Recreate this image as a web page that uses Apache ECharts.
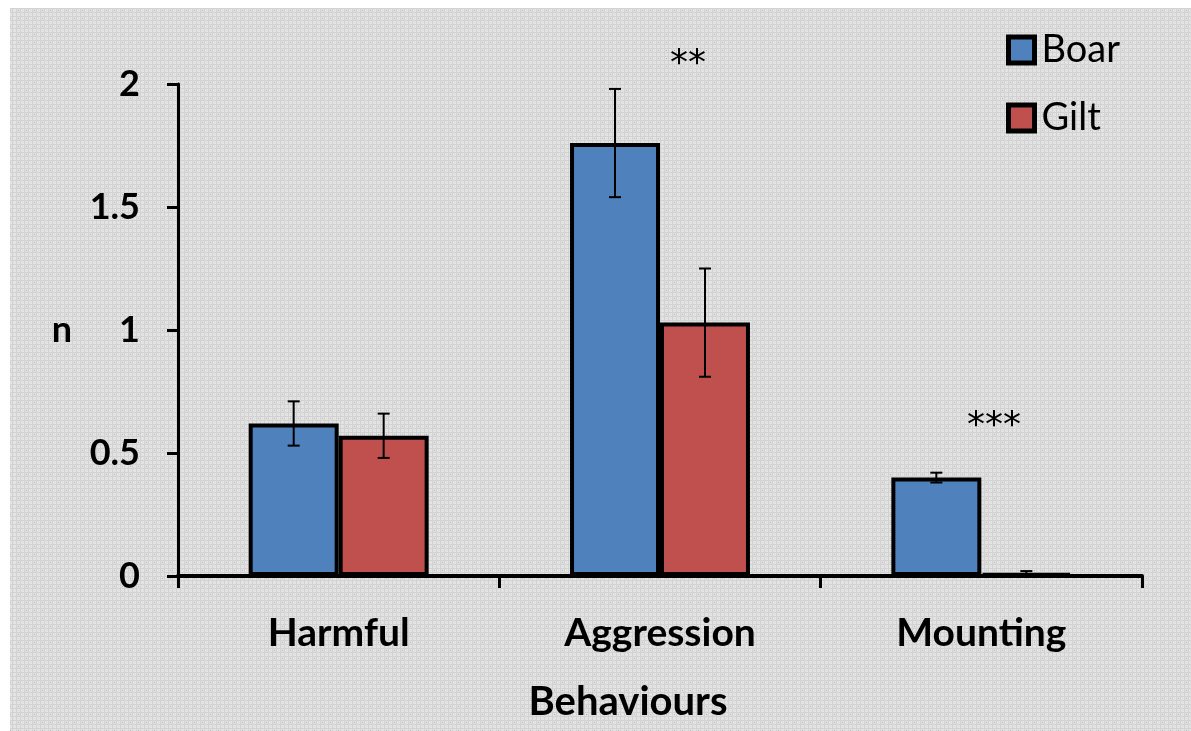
<!DOCTYPE html>
<html>
<head>
<meta charset="utf-8">
<script src="https://cdn.jsdelivr.net/npm/echarts@6/dist/echarts.min.js"></script>
<style>
  html, body { margin: 0; padding: 0; background: #ffffff; }
  #chart { width: 1191px; height: 731px; }
</style>
</head>
<body>
<div id="chart"></div>
<script>
// Behaviour counts per pig (mean ± SE)
const categories = ['Harmful', 'Aggression', 'Mounting'];
const seriesNames = ['Boar', 'Gilt'];
const boarMean = [0.62, 1.76, 0.40];
const boarSE   = [0.09, 0.22, 0.02];
const giltMean = [0.57, 1.03, 0.01];
const giltSE   = [0.09, 0.22, 0.01];
const yTicks = [0, 0.5, 1, 1.5, 2];
const sigMarks = ['**', '***'];

const FONT = 'Lato, "Open Sans", sans-serif';
const STAR_FONT = '"DejaVu Sans", sans-serif';
const BLUE = '#4F81BD';
const RED = '#C0504D';
const BAR_FRAC = 0.28; // bar width as a share of the category band

// light grey woven background tile
function makeTile() {
  const c = document.createElement('canvas');
  c.width = 8; c.height = 8;
  const g = c.getContext('2d');
  g.fillStyle = '#e3e3e3';
  g.fillRect(0, 0, 8, 8);
  g.fillStyle = '#d2d2d2';
  g.fillRect(0, 0, 8, 1);
  g.fillRect(0, 4, 8, 1);
  g.fillRect(0, 0, 1, 8);
  g.fillRect(4, 0, 1, 8);
  g.fillStyle = '#b4b4b4';
  g.fillRect(2, 2, 1, 1);
  return c;
}

const chart = echarts.init(document.getElementById('chart'), null, { renderer: 'canvas' });

function errorItem(side) {
  return function (params, api) {
    const idx = api.value(0);
    const mean = api.value(1);
    const se = api.value(2);
    const band = api.size([1, 0])[0];
    const w = band * BAR_FRAC;
    const c = api.coord([idx, mean]);
    const x = c[0] + side * w / 2;
    const yTop = api.coord([idx, mean + se])[1];
    const yBot = api.coord([idx, Math.max(0, mean - se)])[1];
    const cap = 6;
    const st = { stroke: '#000', lineWidth: 2, fill: null };
    return {
      type: 'group',
      children: [
        { type: 'line', shape: { x1: x, y1: yTop, x2: x, y2: yBot }, style: st },
        { type: 'line', shape: { x1: x - cap, y1: yTop, x2: x + cap, y2: yTop }, style: st },
        { type: 'line', shape: { x1: x - cap, y1: yBot, x2: x + cap, y2: yBot }, style: st }
      ]
    };
  };
}

const boarErr = categories.map((c, i) => [i, boarMean[i], boarSE[i]]);
const giltErr = categories.map((c, i) => [i, giltMean[i], giltSE[i]]);

const option = {
  backgroundColor: '#ffffff',
  animation: false,
  textStyle: { fontFamily: FONT },
  graphic: [
    {
      type: 'rect', z: -10, silent: true,
      shape: { x: 10, y: 8, width: 1181, height: 723 },
      style: { fill: { image: makeTile(), repeat: 'repeat' } }
    },
    {
      type: 'text', left: 670, top: 47, z: 10,
      style: { text: sigMarks[0], font: '36px ' + STAR_FONT, fill: '#000' }
    },
    {
      type: 'text', left: 967, top: 409, z: 10,
      style: { text: sigMarks[1], font: '36px ' + STAR_FONT, fill: '#000' }
    }
  ],
  legend: {
    orient: 'vertical',
    left: 1001,
    top: 26,
    itemWidth: 26,
    itemHeight: 26,
    itemGap: 30,
    icon: 'rect',
    data: seriesNames,
    itemStyle: { borderWidth: 5, borderColor: '#000' },
    textStyle: { fontSize: 38, color: '#000', fontFamily: FONT, padding: [0, 0, 0, 2] }
  },
  grid: { left: 178, right: 49, top: 84, bottom: 155, containLabel: false },
  xAxis: {
    type: 'category',
    data: categories,
    name: 'Behaviours',
    nameLocation: 'middle',
    nameGap: 106,
    nameTextStyle: {
      fontSize: 40, fontWeight: 'bold', color: '#000', fontFamily: FONT,
      padding: [0, 64, 0, 0]
    },
    axisLine: { lineStyle: { color: '#000', width: 4 } },
    axisTick: { show: true, length: 12, lineStyle: { color: '#000', width: 3 } },
    axisLabel: { fontSize: 39, fontWeight: 'bold', color: '#000', margin: 38, fontFamily: FONT }
  },
  yAxis: {
    type: 'value',
    min: yTicks[0],
    max: yTicks[yTicks.length - 1],
    interval: 0.5,
    name: 'n',
    nameLocation: 'middle',
    nameRotate: 0,
    nameGap: 106,
    nameTextStyle: { fontSize: 36, fontWeight: 'bold', color: '#000', fontFamily: FONT },
    splitLine: { show: false },
    axisLine: { show: true, lineStyle: { color: '#000', width: 3 } },
    axisTick: { show: true, length: 11, lineStyle: { color: '#000', width: 3 } },
    axisLabel: { fontSize: 36, fontWeight: 'bold', color: '#000', margin: 38, fontFamily: FONT }
  },
  series: [
    {
      name: seriesNames[0],
      type: 'bar',
      data: boarMean,
      barGap: '0%',
      barCategoryGap: '44%',
      itemStyle: { color: BLUE, borderColor: '#000', borderWidth: 4 }
    },
    {
      name: seriesNames[1],
      type: 'bar',
      data: giltMean,
      itemStyle: { color: RED, borderColor: '#000', borderWidth: 4 }
    },
    {
      type: 'custom',
      renderItem: errorItem(-1),
      data: boarErr,
      z: 5,
      encode: { x: 0, y: 1 }
    },
    {
      type: 'custom',
      renderItem: errorItem(1),
      data: giltErr,
      z: 5,
      encode: { x: 0, y: 1 }
    }
  ]
};

chart.setOption(option);
</script>
</body>
</html>
